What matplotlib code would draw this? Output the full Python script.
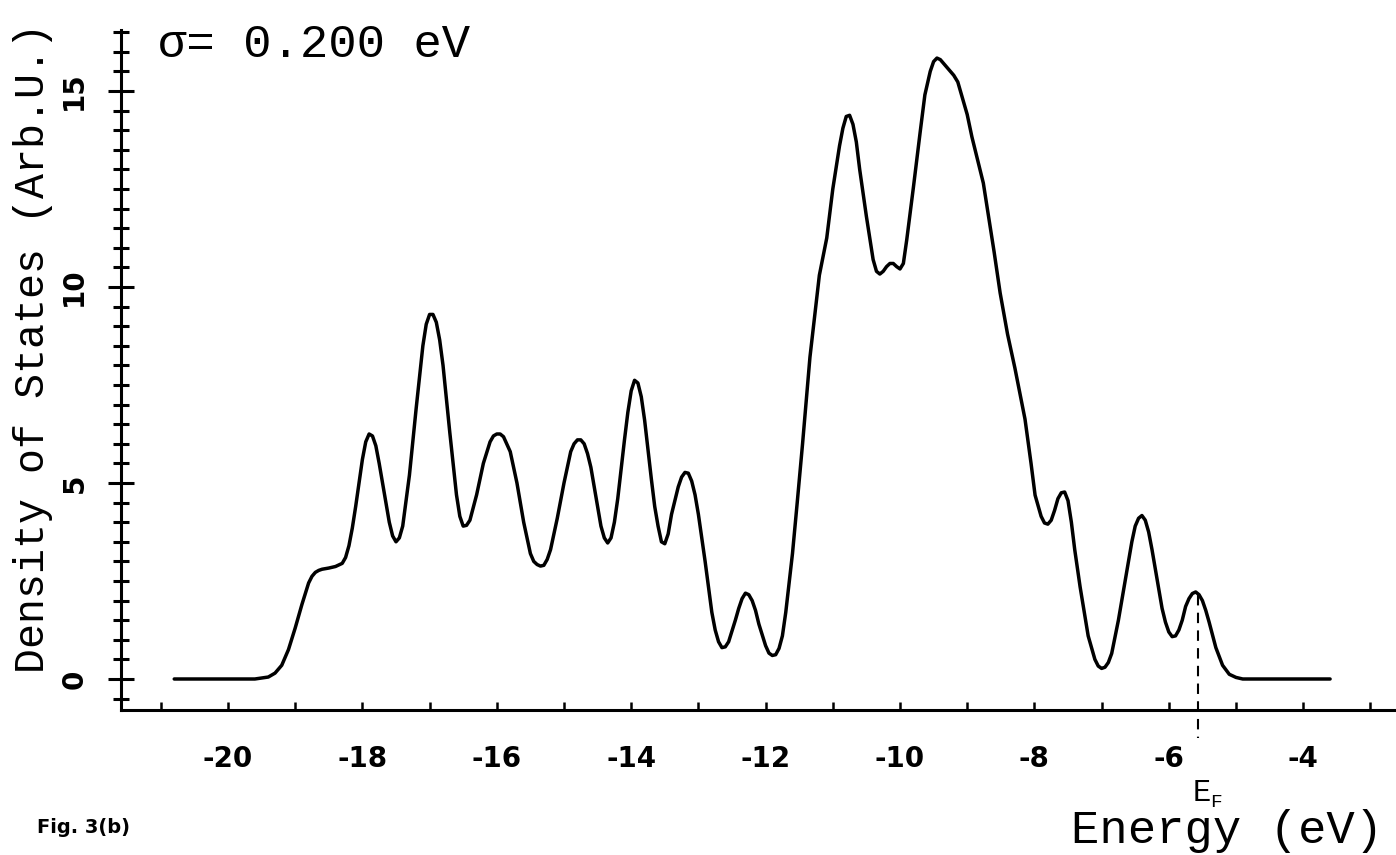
"""Fig. 3(b): density of states, sigma = 0.200 eV."""

import matplotlib

matplotlib.use("Agg")
import matplotlib.pyplot as plt
from matplotlib.ticker import MultipleLocator

plt.rcParams["axes.unicode_minus"] = False

# values (energy in eV, DOS in arb. units)
energy = [
    -20.8, -19.6, -19.4, -19.3, -19.2, -19.1, -19.0, -18.9, -18.8, -18.75,
    -18.7, -18.65, -18.6, -18.5, -18.4, -18.3, -18.25, -18.2, -18.15, -18.1,
    -18.05, -18.0, -17.95, -17.9, -17.85, -17.8, -17.75, -17.7, -17.65, -17.6,
    -17.55, -17.5, -17.45, -17.4, -17.3, -17.2, -17.15, -17.1, -17.05, -17.0,
    -16.95, -16.9, -16.85, -16.8, -16.7, -16.6, -16.55, -16.5, -16.45, -16.4,
    -16.3, -16.2, -16.1, -16.05, -16.0, -15.95, -15.9, -15.8, -15.7, -15.6,
    -15.5, -15.45, -15.4, -15.35, -15.3, -15.25, -15.2, -15.1, -15.0, -14.9,
    -14.85, -14.8, -14.75, -14.7, -14.65, -14.6, -14.5, -14.45, -14.4, -14.35,
    -14.3, -14.25, -14.2, -14.1, -14.05, -14.0, -13.95, -13.9, -13.85, -13.8,
    -13.7, -13.65, -13.6, -13.55, -13.5, -13.45, -13.4, -13.3, -13.25, -13.2,
    -13.15, -13.1, -13.05, -13.0, -12.9, -12.8, -12.75, -12.7, -12.65, -12.6,
    -12.55, -12.45, -12.4, -12.35, -12.3, -12.25, -12.2, -12.15, -12.1, -12.0,
    -11.95, -11.9, -11.85, -11.8, -11.75, -11.7, -11.6, -11.53, -11.45, -11.34,
    -11.2, -11.09, -11.0, -10.9, -10.85, -10.8, -10.75, -10.7, -10.65, -10.6,
    -10.5, -10.4, -10.35, -10.3, -10.25, -10.2, -10.15, -10.1, -10.05, -10.0,
    -9.95, -9.9, -9.8, -9.7, -9.63, -9.55, -9.5, -9.45, -9.4, -9.3,
    -9.2, -9.14, -9.0, -8.93, -8.76, -8.6, -8.51, -8.4, -8.29, -8.14,
    -8.05, -7.99, -7.9, -7.85, -7.8, -7.75, -7.7, -7.65, -7.6, -7.55,
    -7.5, -7.45, -7.4, -7.32, -7.2, -7.1, -7.05, -7.0, -6.95, -6.9,
    -6.85, -6.75, -6.6, -6.55, -6.5, -6.45, -6.4, -6.35, -6.3, -6.25,
    -6.2, -6.1, -6.05, -6.0, -5.95, -5.9, -5.85, -5.8, -5.75, -5.7,
    -5.65, -5.6, -5.55, -5.5, -5.45, -5.4, -5.3, -5.2, -5.1, -5.0,
    -4.9, -3.6,
]
dos = [
    0.0, 0.0, 0.05, 0.15, 0.35, 0.75, 1.3, 1.9, 2.45, 2.62,
    2.72, 2.77, 2.8, 2.83, 2.87, 2.95, 3.1, 3.4, 3.85, 4.4,
    5.0, 5.6, 6.05, 6.25, 6.2, 5.95, 5.5, 5.0, 4.5, 4.0,
    3.65, 3.5, 3.6, 3.9, 5.2, 6.9, 7.7, 8.5, 9.05, 9.3,
    9.3, 9.1, 8.65, 8.0, 6.3, 4.7, 4.15, 3.9, 3.92, 4.05,
    4.7, 5.5, 6.05, 6.2, 6.25, 6.25, 6.18, 5.8, 5.0, 4.0,
    3.2, 3.0, 2.92, 2.88, 2.9, 3.05, 3.3, 4.1, 5.0, 5.8,
    6.0, 6.1, 6.1, 6.0, 5.75, 5.4, 4.4, 3.9, 3.6, 3.47,
    3.6, 4.0, 4.6, 6.1, 6.8, 7.35, 7.62, 7.55, 7.2, 6.6,
    5.1, 4.4, 3.9, 3.5, 3.45, 3.7, 4.2, 4.9, 5.15, 5.27,
    5.25, 5.05, 4.7, 4.2, 3.0, 1.7, 1.25, 0.95, 0.8, 0.82,
    0.95, 1.5, 1.8, 2.05, 2.19, 2.15, 2.0, 1.75, 1.4, 0.85,
    0.66, 0.6, 0.62, 0.78, 1.1, 1.7, 3.2, 4.49, 6.0, 8.21,
    10.3, 11.25, 12.5, 13.6, 14.05, 14.35, 14.38, 14.15, 13.7, 13.0,
    11.8, 10.7, 10.4, 10.33, 10.4, 10.52, 10.6, 10.6, 10.52, 10.46,
    10.6, 11.2, 12.55, 13.95, 14.9, 15.5, 15.75, 15.84, 15.8, 15.6,
    15.4, 15.23, 14.4, 13.83, 12.65, 10.9, 9.85, 8.8, 7.93, 6.63,
    5.5, 4.69, 4.15, 3.98, 3.95, 4.05, 4.3, 4.6, 4.75, 4.77,
    4.55, 4.0, 3.3, 2.35, 1.1, 0.5, 0.33, 0.27, 0.3, 0.42,
    0.65, 1.5, 3.0, 3.5, 3.9, 4.1, 4.17, 4.05, 3.75, 3.3,
    2.8, 1.8, 1.45, 1.2, 1.08, 1.1, 1.25, 1.5, 1.85, 2.05,
    2.18, 2.22, 2.15, 2.0, 1.75, 1.45, 0.8, 0.35, 0.12, 0.04,
    0.0, 0.0,
]

fermi_energy = -5.57
fermi_top = 2.15
fermi_bottom = -1.5

x_ticks = [-20, -18, -16, -14, -12, -10, -8, -6, -4]
x_tick_labels = ["-20", "-18", "-16", "-14", "-12", "-10", "-8", "-6", "-4"]
y_ticks = [0, 5, 10, 15]
y_tick_labels = ["0", "5", "10", "15"]

W, H = 1396, 855
fig = plt.figure(figsize=(W / 100, H / 100), dpi=100)
ax = fig.add_axes([121 / W, 1 - 710 / H, (1394 - 121) / W, (710 - 30) / H])

ax.plot(energy, dos, color="black", lw=2.5, solid_joinstyle="round",
        solid_capstyle="round")
ax.plot([fermi_energy, fermi_energy], [fermi_top, fermi_bottom], color="black",
        lw=1.5, dashes=(5, 3.5), clip_on=False)

ax.set_xlim(-21.592, -2.649)
ax.set_ylim(-0.791, 16.556)

for side in ["top", "right"]:
    ax.spines[side].set_visible(False)
for side in ["left", "bottom"]:
    ax.spines[side].set_linewidth(2.2)

ax.set_xticks(x_ticks, labels=x_tick_labels, fontsize=20, fontweight="bold",
              family="DejaVu Sans")
ax.xaxis.set_minor_locator(MultipleLocator(1))
ax.tick_params(axis="x", which="both", direction="in", length=6, width=1.8, pad=25)

ax.set_yticks(y_ticks, labels=y_tick_labels, fontsize=20, fontweight="bold",
              family="DejaVu Sans", rotation=90, va="center")
ax.yaxis.set_minor_locator(MultipleLocator(0.5))
ax.tick_params(axis="y", which="major", direction="inout", length=19, width=2.2, pad=14)
ax.tick_params(axis="y", which="minor", direction="inout", length=12, width=2.2)

mono = ["Liberation Mono", "DejaVu Sans Mono"]
fig.text(33 / W, 1 - 348 / H, "Density of States (Arb.U.)", rotation=90,
         ha="center", va="center", family=mono, fontsize=30)
fig.text(158 / W, 1 - 45 / H, "\u03c3= 0.200 eV", ha="left", va="center",
         family=mono, fontsize=34)
fig.text(1227 / W, 1 - 831 / H, "Energy (eV)", ha="center", va="center",
         family=mono, fontsize=34)
fig.text(1193 / W, 1 - 793 / H, "E", ha="left", va="center", family=mono, fontsize=22)
fig.text(1210 / W, 1 - 802 / H, "F", ha="left", va="center", family=mono, fontsize=14)
fig.text(37 / W, 1 - 827 / H, "Fig. 3(b)", ha="left", va="center",
         family="DejaVu Sans", weight="bold", fontsize=14)

fig.savefig("out.png", dpi=100)
